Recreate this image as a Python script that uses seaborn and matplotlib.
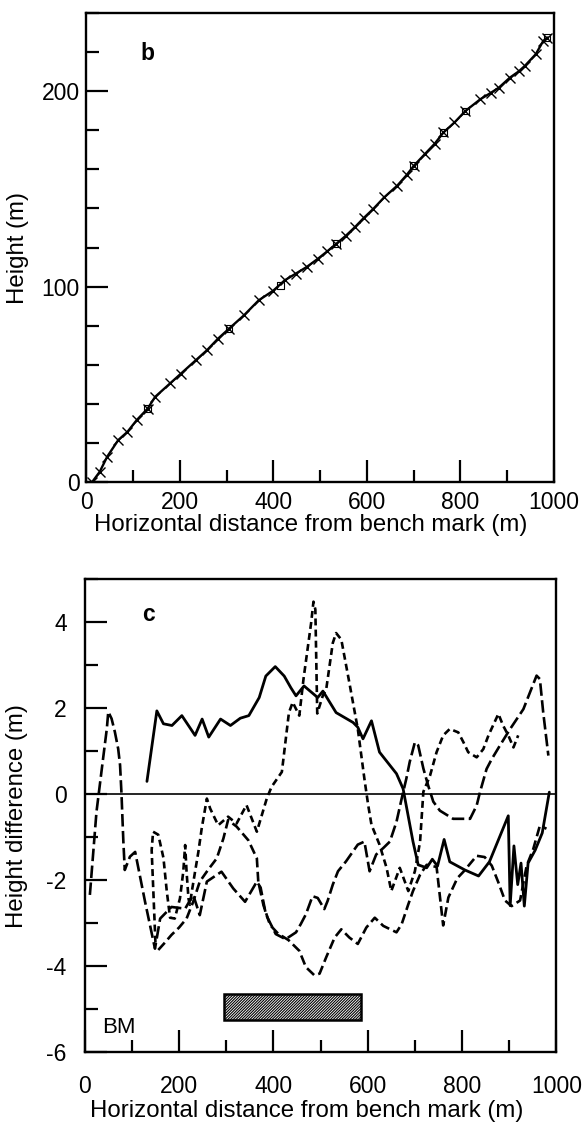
import matplotlib
matplotlib.use("Agg")
import matplotlib.pyplot as plt
from matplotlib.patches import Rectangle
from matplotlib.ticker import MultipleLocator
import seaborn as sns

# ---- panel b: height profile along the traverse ----
dist_b = [12.6, 28.4, 44.3, 68, 87.7, 107.5, 131, 147, 178.7, 202.4, 234, 257.8,
          281.4, 305, 336.8, 368.5, 400, 424, 447.5, 471, 495, 515, 534.6, 555,
          574, 593, 613.6, 637, 665, 685, 700.6, 724.4, 745, 764, 787.5, 811, 843,
          865, 882.5, 906, 925, 938, 961.5, 977.3, 985.3]
height_b = [0.3, 5.4, 13.1, 21.6, 25.8, 31.8, 37.7, 43.7, 50.5, 55.6, 62.4, 67.5,
            73.4, 78.5, 85.3, 93, 98, 103.2, 106.6, 110, 114.2, 118, 121.9, 126,
            130.3, 135, 139.7, 145.6, 151.6, 157, 161.8, 167.8, 173, 178.8, 183.9,
            189.8, 195.8, 199, 201.7, 206.8, 210, 212.8, 218.8, 225.5, 227.2]
square_x = [131, 305, 416, 534.6, 700.6, 764, 811, 985.3]
square_y = [37.7, 78.5, 100.6, 121.9, 161.8, 178.8, 189.8, 227.2]

# ---- panel c: height differences between surveys ----
solid_x = [132, 153, 167, 185, 206, 234, 249, 263, 288, 309, 330, 348, 370, 384,
           404, 423, 437, 448, 465, 494, 505, 533, 569, 579, 590, 608, 625, 661,
           675, 696, 707, 725, 737, 748, 762, 774, 806, 835, 858, 898, 902, 910,
           918, 925, 932, 940, 955, 970, 985]
solid_y = [0.30, 1.94, 1.64, 1.60, 1.83, 1.37, 1.75, 1.33, 1.75, 1.60, 1.77, 1.83,
           2.25, 2.75, 2.97, 2.75, 2.48, 2.29, 2.52, 2.25, 2.40, 1.90, 1.67, 1.56,
           1.29, 1.71, 0.98, 0.48, 0.13, -1.10, -1.64, -1.71, -1.51, -1.67, -1.05,
           -1.57, -1.76, -1.90, -1.57, -0.50, -2.59, -1.20, -2.10, -1.60, -2.60,
           -1.60, -1.30, -0.90, 0.05]

long_x = [11, 25, 39, 47, 50, 57, 64, 71, 75, 78, 82, 85, 96, 107, 128, 149, 160,
          184, 213, 230, 244, 259, 290, 315, 340, 365, 373, 384, 405, 426, 448,
          458, 469, 483, 494, 508, 515, 526, 537, 554, 579, 593, 604, 618, 633,
          647, 661, 672, 682, 689, 700, 707, 718, 728, 739, 753, 781, 817, 831,
          838, 852, 863, 880, 902, 930, 958, 965, 972, 983]
long_y = [-2.34, -0.41, 0.83, 1.53, 1.92, 1.76, 1.45, 1.06, 0.68, 0.02, -1.10,
          -1.76, -1.45, -1.34, -2.50, -3.59, -2.89, -2.62, -2.66, -2.34, -2.81,
          -2.03, -1.80, -2.19, -2.50, -2.03, -2.17, -2.79, -3.25, -3.37, -3.21,
          -3.02, -2.79, -2.37, -2.41, -2.67, -2.48, -2.10, -1.79, -1.56, -1.17,
          -1.10, -1.79, -1.40, -1.25, -1.10, -0.64, -0.10, 0.37, 0.75, 1.21, 1.14,
          0.60, 0.21, -0.17, -0.38, -0.57, -0.57, -0.26, 0.05, 0.59, 0.82, 1.13,
          1.52, 1.98, 2.76, 2.68, 1.91, 0.90]

mid_x = [156, 170, 184, 200, 216, 230, 244, 262, 280, 294, 304, 322, 347, 365,
         368, 379, 393, 410, 432, 455, 469, 487, 498, 512, 530, 544, 561, 579,
         597, 615, 633, 661, 672, 686, 696, 711, 725, 746, 760, 771, 790, 803,
         831, 848, 863, 877, 891, 905, 923, 937, 951, 965, 979]
mid_y = [-3.62, -3.45, -3.27, -3.10, -2.89, -2.50, -2.03, -1.75, -1.49, -1.03,
         -0.60, -0.75, -1.07, -1.49, -2.03, -2.58, -3.04, -3.24, -3.39, -3.64,
         -4.02, -4.21, -4.17, -3.79, -3.33, -3.14, -3.33, -3.48, -3.10, -2.87,
         -3.06, -3.21, -3.02, -2.56, -2.25, -1.87, -1.64, -1.69, -3.05, -2.40,
         -1.95, -1.80, -1.43, -1.46, -1.66, -2.05, -2.47, -2.60, -2.47, -1.66,
         -1.27, -0.73, -0.80]

short_x = [150, 142, 145, 156, 167, 174, 181, 191, 202, 209, 213, 216, 220, 223,
           227, 234, 241, 248, 259, 266, 283, 304, 322, 343, 365, 386, 396, 418,
           433, 441, 455, 464, 480, 485, 489, 493, 505, 512, 526, 533, 544, 561,
           579, 593, 601, 608, 625, 640, 650, 668, 686, 700, 711, 718, 732, 746,
           760, 774, 792, 803, 813, 831, 845, 856, 877, 887, 898, 909, 919]
short_y = [-3.45, -1.30, -0.87, -0.94, -1.48, -2.25, -2.87, -2.89, -2.42, -1.80,
           -1.18, -1.80, -2.42, -2.57, -2.27, -1.80, -1.34, -0.80, -0.10, -0.33,
           -0.72, -0.52, -0.68, -0.25, -0.87, -0.10, 0.17, 0.52, 1.90, 2.14, 1.83,
           2.69, 3.98, 4.48, 4.30, 1.88, 2.30, 2.44, 3.52, 3.75, 3.60, 2.60, 1.52,
           0.36, -0.25, -0.71, -1.17, -1.71, -2.25, -1.71, -2.25, -1.79, -1.10,
           0.06, 0.43, 0.98, 1.37, 1.52, 1.44, 1.21, 0.98, 0.86, 1.05, 1.37, 1.87,
           1.60, 1.37, 1.09, 1.37]

# extent of the shaded section and its label
section_x = [295, 585]
section_y = [-5.25, -4.65]
bm_label = "BM"

sns.set_style("white")
plt.rcParams["font.family"] = ["Liberation Sans", "DejaVu Sans"]
plt.rcParams["lines.scale_dashes"] = False
plt.rcParams["hatch.linewidth"] = 0.8
plt.rcParams["axes.unicode_minus"] = False
for key in ("text.color", "axes.labelcolor", "xtick.color", "ytick.color",
            "axes.edgecolor", "hatch.color"):
    plt.rcParams[key] = "black"

TICK_FS = 16.5
LABEL_FS = 17.3

fig = plt.figure(figsize=(5.82, 11.24), dpi=100)
ax1 = fig.add_axes([0.1486, 0.5709, 0.8029, 0.4178])
ax2 = fig.add_axes([0.1455, 0.0638, 0.8105, 0.4208])


def style_axes(ax, xpad, ypad):
    for sp in ax.spines.values():
        sp.set_linewidth(1.7)
        sp.set_color("k")
    ax.tick_params(which="both", direction="in", top=False, right=False,
                   left=True, bottom=True, color="k", width=1.6)
    ax.tick_params(which="major", length=16, labelsize=TICK_FS)
    ax.tick_params(which="minor", length=9)
    ax.tick_params(axis="x", which="major", pad=xpad)
    ax.tick_params(axis="y", which="major", pad=ypad)


# panel b
sns.lineplot(x=dist_b, y=height_b, ax=ax1, color="k", linewidth=1.7,
             marker="x", markersize=7, markeredgewidth=1.0,
             markeredgecolor="k", sort=False, estimator=None)
sns.scatterplot(x=square_x, y=square_y, ax=ax1, marker="s", s=24,
                facecolors="none", edgecolor="k", linewidth=0.8, zorder=3)
ax1.set_xlim(0, 1000)
ax1.set_ylim(0, 240)
ax1.xaxis.set_major_locator(MultipleLocator(200))
ax1.xaxis.set_minor_locator(MultipleLocator(100))
ax1.yaxis.set_major_locator(MultipleLocator(100))
ax1.yaxis.set_minor_locator(MultipleLocator(20))
style_axes(ax1, xpad=6, ypad=5)
ax1.set_xlabel("Horizontal distance from bench mark (m)", fontsize=LABEL_FS)
ax1.set_ylabel("Height (m)", fontsize=LABEL_FS)
ax1.xaxis.set_label_coords(0.48, -0.068)
ax1.yaxis.set_label_coords(-0.122, 0.5)
ax1.text(0.1153, 0.899, "b", transform=ax1.transAxes, fontsize=16.5,
         fontweight="bold", ha="left", va="baseline")

# panel c
ax2.axhline(0, color="k", linewidth=1.2, zorder=1)
sns.lineplot(x=solid_x, y=solid_y, ax=ax2, color="k", linewidth=2.0,
             sort=False, estimator=None)
sns.lineplot(x=long_x, y=long_y, ax=ax2, color="k", linewidth=1.9,
             linestyle=(0, (9, 3.2)), sort=False, estimator=None)
sns.lineplot(x=mid_x, y=mid_y, ax=ax2, color="k", linewidth=1.9,
             linestyle=(0, (7, 3.2)), sort=False, estimator=None)
sns.lineplot(x=short_x, y=short_y, ax=ax2, color="k", linewidth=1.9,
             linestyle=(0, (5, 3)), sort=False, estimator=None)
ax2.add_patch(Rectangle((section_x[0], section_y[0]),
                        section_x[1] - section_x[0], section_y[1] - section_y[0],
                        facecolor="white", edgecolor="k", linewidth=1.8,
                        hatch="////////////", zorder=2))
ax2.text(0.036, 0.0414, bm_label, transform=ax2.transAxes, fontsize=16,
         ha="left", va="baseline")
ax2.set_xlim(0, 1000)
ax2.set_ylim(-6, 5)
ax2.xaxis.set_major_locator(MultipleLocator(200))
ax2.xaxis.set_minor_locator(MultipleLocator(100))
ax2.yaxis.set_major_locator(MultipleLocator(2))
ax2.yaxis.set_minor_locator(MultipleLocator(1))
style_axes(ax2, xpad=16, ypad=13)
ax2.set_xlabel("Horizontal distance from bench mark (m)", fontsize=LABEL_FS)
ax2.set_ylabel("Height difference (m)", fontsize=LABEL_FS)
ax2.xaxis.set_label_coords(0.471, -0.1)
ax2.yaxis.set_label_coords(-0.12, 0.5)
ax2.text(0.121, 0.9125, "c", transform=ax2.transAxes, fontsize=16.5,
         fontweight="bold", ha="left", va="baseline")

fig.savefig("out.png", dpi=100)
